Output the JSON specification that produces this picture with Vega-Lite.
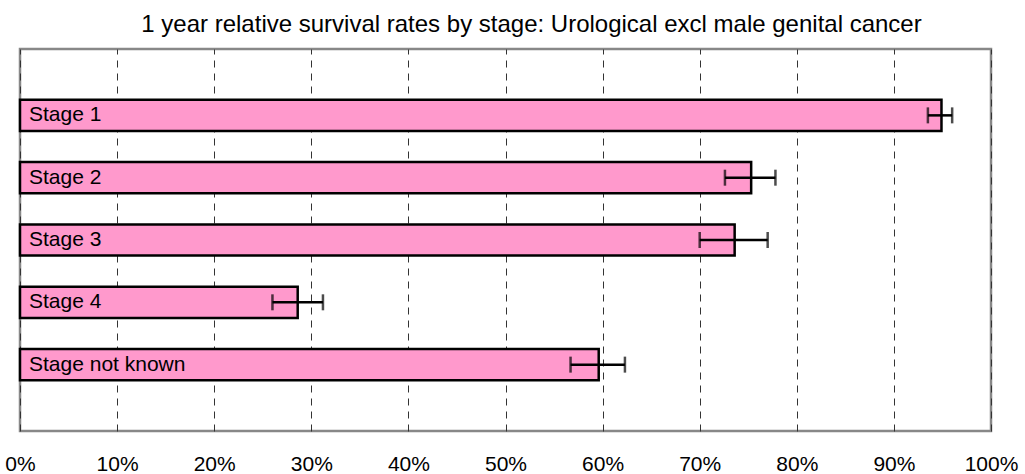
{
  "$schema": "https://vega.github.io/schema/vega-lite/v6.json",
  "width": 971,
  "height": 382,
  "autosize": {"type": "none"},
  "padding": {"left": 20, "top": 49, "right": 34, "bottom": 43},
  "background": "white",
  "title": {
    "text": "1 year relative survival rates by stage: Urological excl male genital cancer",
    "font": "Liberation Sans",
    "fontSize": 24,
    "fontWeight": "normal",
    "color": "#000000",
    "anchor": "middle",
    "dx": 26,
    "offset": 12
  },
  "config": {
    "view": {"stroke": "#888888", "strokeWidth": 2.5},
    "font": "Liberation Sans"
  },
  "data": {
    "values": [
      {"stage": "Stage 1", "rate": 94.9, "lo": 93.5, "hi": 96.0},
      {"stage": "Stage 2", "rate": 75.3, "lo": 72.6, "hi": 77.8},
      {"stage": "Stage 3", "rate": 73.6, "lo": 70.0, "hi": 77.0},
      {"stage": "Stage 4", "rate": 28.6, "lo": 26.0, "hi": 31.2},
      {"stage": "Stage not known", "rate": 59.6, "lo": 56.7, "hi": 62.3}
    ]
  },
  "encoding": {
    "y": {
      "field": "stage",
      "type": "nominal",
      "sort": null,
      "axis": null,
      "scale": {"paddingInner": 0.5, "paddingOuter": 0.815}
    }
  },
  "layer": [
    {
      "mark": {"type": "bar", "fill": "#ff99cc", "stroke": "#000000", "strokeWidth": 2.5},
      "encoding": {
        "x": {
          "field": "rate",
          "type": "quantitative",
          "scale": {"domain": [0, 100], "nice": false, "zero": true},
          "axis": {
            "values": [0, 10, 20, 30, 40, 50, 60, 70, 80, 90, 100],
            "labelExpr": "datum.value + '%'",
            "title": null,
            "domain": false,
            "ticks": false,
            "labelFontSize": 21,
            "labelColor": "#000000",
            "labelPadding": 22,
            "labelFlush": false,
            "grid": true,
            "gridDash": [7, 6],
            "gridColor": "#333333",
            "gridWidth": 1,
            "zindex": 0
          }
        }
      }
    },
    {
      "mark": {"type": "rule", "stroke": "#000000", "strokeWidth": 2.5},
      "encoding": {
        "x": {"field": "lo", "type": "quantitative"},
        "x2": {"field": "hi"}
      }
    },
    {
      "mark": {"type": "tick", "color": "#000000", "thickness": 2.5, "size": 16, "orient": "vertical"},
      "encoding": {
        "x": {"field": "lo", "type": "quantitative"}
      }
    },
    {
      "mark": {"type": "tick", "color": "#000000", "thickness": 2.5, "size": 16, "orient": "vertical"},
      "encoding": {
        "x": {"field": "hi", "type": "quantitative"}
      }
    },
    {
      "mark": {"type": "text", "align": "left", "baseline": "middle", "dx": 9, "fontSize": 21, "color": "#000000", "font": "Liberation Sans"},
      "encoding": {
        "x": {"datum": 0, "type": "quantitative"},
        "text": {"field": "stage"}
      }
    }
  ]
}
